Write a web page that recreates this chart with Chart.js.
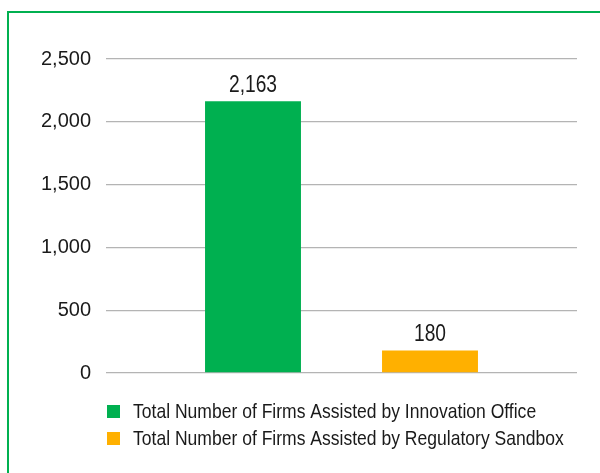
<!DOCTYPE html>
<html>
<head>
<meta charset="utf-8">
<script src="https://cdn.jsdelivr.net/npm/chart.js@4/dist/chart.umd.min.js"></script>
<style>
  html, body { margin: 0; padding: 0; background: #fff; }
  #wrap { position: relative; width: 600px; height: 473px; overflow: hidden; }
  #frame {
    position: absolute; left: 7px; top: 11px; right: -4px; bottom: -4px;
    border-left: 2px solid #00b050; border-top: 2px solid #00b050;
  }
  #firms-chart { position: absolute; left: 0; top: 0; }
</style>
</head>
<body>
<div id="wrap">
  <div id="frame"></div>
  <canvas id="firms-chart" width="600" height="473"></canvas>
</div>
<script>
var labels = [""];
var seriesNames = [
  "Total Number of Firms Assisted by Innovation Office",
  "Total Number of Firms Assisted by Regulatory Sandbox"
];
var innovationOffice = [2163];
var regulatorySandbox = [180];
var yTicks = [0, 500, 1000, 1500, 2000, 2500];
var colors = ["#00b050", "#ffb000"];

var FONT = "'Liberation Sans', Arial, sans-serif";
var NARROW = 0.835; // no narrow face installed, squeeze the text instead
Chart.defaults.font.family = FONT;
Chart.defaults.color = "#1a1a1a";

function narrowText(ctx, text, x, y) {
  ctx.save();
  ctx.translate(x, y);
  ctx.scale(NARROW, 1);
  ctx.fillText(text, 0, 0);
  ctx.restore();
}

// value labels above each bar
var valueLabels = {
  id: "valueLabels",
  afterDatasetsDraw: function(chart) {
    var ctx = chart.ctx;
    ctx.save();
    ctx.font = "23px " + FONT;
    ctx.fillStyle = "#1a1a1a";
    ctx.textAlign = "center";
    ctx.textBaseline = "alphabetic";
    chart.data.datasets.forEach(function(ds, i) {
      chart.getDatasetMeta(i).data.forEach(function(bar, j) {
        narrowText(ctx, ds.data[j].toLocaleString("en-US"), bar.x, bar.y - 9);
      });
    });
    ctx.restore();
  }
};

// stacked legend, one series per row
var rowLegend = {
  id: "rowLegend",
  afterDraw: function(chart) {
    var ctx = chart.ctx;
    var area = chart.chartArea;
    ctx.save();
    ctx.font = "21px " + FONT;
    ctx.textBaseline = "middle";
    ctx.textAlign = "left";
    chart.data.datasets.forEach(function(ds, i) {
      var y = area.bottom + 38 + i * 27;
      ctx.fillStyle = ds.backgroundColor;
      ctx.fillRect(107, y - 6, 13, 13);
      ctx.fillStyle = "#1a1a1a";
      narrowText(ctx, ds.label, 133, y + 1);
    });
    ctx.restore();
  }
};

var chart1 = new Chart(document.getElementById("firms-chart").getContext("2d"), {
  type: "bar",
  data: {
    labels: labels,
    datasets: [{
      label: seriesNames[0],
      data: innovationOffice,
      backgroundColor: colors[0],
      borderWidth: 0
    }, {
      label: seriesNames[1],
      data: regulatorySandbox,
      backgroundColor: colors[1],
      borderWidth: 0
    }]
  },
  options: {
    responsive: false,
    animation: false,
    categoryPercentage: 0.7516,
    barPercentage: 0.542,
    layout: {
      padding: { left: 8, right: 23, top: 59, bottom: 100 }
    },
    plugins: {
      legend: { display: false },
      tooltip: { enabled: false }
    },
    scales: {
      x: {
        display: false
      },
      y: {
        min: yTicks[0],
        max: yTicks[yTicks.length - 1],
        afterFit: function(scale) { scale.width = 98; },
        afterBuildTicks: function(scale) {
          scale.ticks = yTicks.map(function(v) { return { value: v }; });
        },
        border: { display: false },
        grid: {
          color: "#b4b4b4",
          lineWidth: 1.3,
          drawTicks: false
        },
        ticks: {
          padding: 15,
          color: "#1a1a1a",
          font: { size: 20 },
          callback: function(v) { return v.toLocaleString("en-US"); }
        }
      }
    }
  },
  plugins: [valueLabels, rowLegend]
});
</script>
</body>
</html>
